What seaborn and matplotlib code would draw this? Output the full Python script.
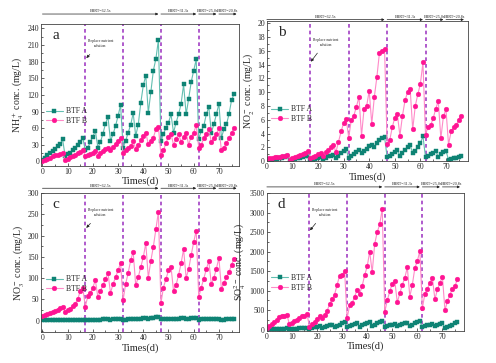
import numpy as np
import matplotlib
matplotlib.use("Agg")
import matplotlib.pyplot as plt
import seaborn as sns
from matplotlib.ticker import AutoMinorLocator

# ── data ─────────────────────────────────────────────────────────────────────
days = list(range(77))

nh4_a = [3, 6, 12, 15, 18, 23, 27, 31, 40,
         10, 13, 16, 20, 25, 29, 35, 43,
         20, 25, 35, 45, 55, 25, 35, 50, 68, 80, 37, 49, 64, 82, 102,
         25, 37, 52, 66, 87, 46, 66, 105, 137, 155, 88, 125, 164, 185, 219,
         37, 49, 61, 70, 85, 52, 70, 85, 104, 139, 85, 113, 143, 164, 184,
         40, 55, 64, 85, 98, 52, 67, 85, 104, 43, 58, 67, 85, 110, 122]
nh4_b = [1, 3, 5, 7, 9, 11, 12, 14, 15,
         3, 5, 8, 10, 12, 15, 17, 20,
         10, 11, 13, 16, 19, 10, 15, 18, 22, 25, 20, 26, 32, 36, 42,
         16, 20, 24, 28, 36, 23, 30, 38, 46, 52, 31, 37, 43, 58, 63,
         12, 20, 33, 45, 50, 30, 40, 50, 35, 45, 52, 30, 45, 52, 65,
         25, 30, 42, 50, 58, 35, 42, 50, 60, 20, 25, 33, 42, 52, 60]

no2_a = [0.1, 0.1, 0.2, 0.3, 0.3, 0.4, 0.5, 0.6, 0.7,
         0.1, 0.2, 0.3, 0.4, 0.5, 0.6, 0.7, 0.8,
         0.1, 0.2, 0.3, 0.5, 0.6, 0.3, 0.5, 0.7, 0.8, 0.9, 0.5, 0.8, 1.2, 1.5, 1.7,
         0.4, 0.8, 1.0, 1.3, 1.6, 1.2, 1.5, 1.8, 2.2, 2.4, 2.0, 2.6, 3.0, 3.3, 3.5,
         0.6, 0.8, 1.0, 1.3, 1.6, 0.7, 1.2, 1.6, 2.0, 2.3, 1.2, 1.5, 2.0, 2.6, 3.6,
         0.6, 0.8, 1.0, 1.2, 1.5, 0.6, 1.0, 1.3, 1.5, 0.2, 0.3, 0.4, 0.5, 0.6, 0.7]
no2_b = [0.3, 0.4, 0.5, 0.55, 0.6, 0.65, 0.7, 0.8, 0.9,
         0.2, 0.4, 0.6, 0.8, 0.9, 1.0, 1.2, 1.5,
         0.4, 0.6, 0.8, 1.0, 1.2, 0.8, 1.3, 1.6, 2.0, 2.4, 1.3, 2.8, 4.3, 5.5, 6.1,
         3.4, 6.0, 6.6, 7.9, 9.3, 3.7, 7.6, 8.0, 10.2, 5.4, 9.3, 12.2, 15.7, 16.0, 16.3,
         2.5, 3.0, 4.9, 6.3, 6.8, 3.7, 6.6, 8.8, 10.0, 10.5, 4.6, 8.0, 9.7, 11.2, 14.3,
         3.8, 5.0, 5.2, 6.2, 7.6, 8.7, 3.3, 6.5, 7.5, 2.4, 4.3, 4.9, 5.2, 6.0, 6.6]

no3_a = [1, 1, 1, 1.5, 1.5, 2, 2, 2, 2.5,
         1, 1, 1.5, 1.5, 2, 2, 2, 2.5,
         1, 1.5, 1.5, 2, 2.5, 2, 2.5, 3, 3, 3.5, 2.5, 3, 3.5, 4, 4.5,
         2, 2.5, 3, 3.5, 4, 3, 4, 5, 6, 7, 5, 6, 7, 8, 9,
         3, 3.5, 4, 4.5, 5, 3.5, 4, 5, 5.5, 6, 4, 5, 6, 6.5, 7,
         2.5, 3, 3.5, 4, 4.5, 3, 3.5, 4, 4.5, 2, 2.5, 3, 3.5, 4.5, 5]
no3_b = [10, 13, 15, 18, 20, 23, 26, 29, 33,
         20, 25, 28, 35, 40, 50, 70, 78,
         33, 57, 65, 78, 95, 55, 70, 83, 98, 112, 65, 86, 102, 118, 136,
         48, 86, 112, 142, 162, 83, 102, 126, 149, 182, 101, 141, 174, 215, 256,
         41, 78, 98, 118, 127, 70, 84, 107, 135, 168, 101, 121, 154, 185, 212,
         55, 78, 99, 121, 140, 86, 101, 122, 148, 74, 89, 102, 114, 131, 146]

so4_a = [2, 5, 8, 12, 15, 20, 25, 30, 35,
         15, 20, 25, 30, 35, 40, 45, 50,
         30, 45, 60, 75, 90, 50, 70, 90, 110, 130, 70, 100, 130, 160, 190,
         60, 90, 110, 140, 170, 80, 110, 140, 170, 200, 100, 130, 160, 190, 210,
         70, 90, 110, 130, 150, 90, 110, 140, 160, 180, 100, 130, 160, 190, 210,
         60, 90, 110, 130, 150, 90, 110, 140, 160, 50, 80, 100, 130, 160, 200]
so4_b = [40, 100, 150, 200, 250, 320, 350, 360, 380,
         140, 160, 210, 260, 310, 350, 360, 400,
         80, 150, 200, 270, 350, 310, 380, 480, 650, 780, 900, 1150, 1380, 1400, 1500,
         300, 620, 680, 850, 1020, 920, 1120, 1400, 1620, 2000, 1470, 2200, 2500, 2700, 3100,
         450, 750, 980, 1180, 1250, 700, 930, 1150, 1330, 1600, 850, 1150, 1580, 1760, 2020,
         550, 920, 1050, 1200, 1320, 780, 1030, 1200, 1350, 500, 730, 900, 1050, 1120, 1300]

replace_days = [17, 32, 47, 62]
ebrt_segments = [(0, 46), (47, 61), (62, 69), (70, 77)]
ebrt_labels = ["EBRT=62.5s", "EBRT=31.3s", "EBRT=25.0s", "EBRT=20.8s"]

# ── style ────────────────────────────────────────────────────────────────────
sns.set_style("ticks")
plt.rcParams["font.family"] = ["Liberation Serif", "DejaVu Serif"]
plt.rcParams["mathtext.fontset"] = "stix"

TEAL, TEAL_L = "#0e8374", "#63bfb1"
PINK, PINK_L = "#ff1493", "#ff8ac8"
PURPLE = "#a23fc4"


def draw_panel(ax, a_vals, b_vals, ylim, yticks, ylabel, letter, xlim,
               banner_y, legend_y, note_xy, note_tip):
    sns.lineplot(x=days, y=a_vals, ax=ax, color=TEAL_L, linewidth=0.8,
                 marker="s", markersize=2.8, markerfacecolor=TEAL,
                 markeredgecolor=TEAL, markeredgewidth=0.3, label="BTF A")
    sns.lineplot(x=days, y=b_vals, ax=ax, color=PINK_L, linewidth=0.8,
                 marker="o", markersize=3.4, markerfacecolor=PINK,
                 markeredgecolor=PINK, markeredgewidth=0.3, label="BTF B")

    for d in replace_days:
        ax.axvline(d, color=PURPLE, ls=(0, (2.2, 1.8)), lw=1.2, zorder=0)

    ax.set_xlim(*xlim)
    ax.set_ylim(*ylim)
    ax.set_xticks(range(0, 80, 10))
    ax.set_yticks(yticks)
    ax.xaxis.set_minor_locator(AutoMinorLocator(2))
    ax.yaxis.set_minor_locator(AutoMinorLocator(2))
    ax.tick_params(which="both", direction="in", labelsize=5.5, width=0.5,
                   pad=1.5)
    ax.tick_params(which="major", length=2.5)
    ax.tick_params(which="minor", length=1.5)
    for s in ax.spines.values():
        s.set_linewidth(0.6)
        s.set_color("#444444")

    ax.set_xlabel("Times(d)", fontsize=7.5, labelpad=0.5)
    ax.set_ylabel(ylabel, fontsize=7, labelpad=1)
    ax.text(0.055, 0.92, letter, transform=ax.transAxes, fontsize=11,
            ha="left", va="center")

    ax.legend(loc="center left", bbox_to_anchor=(0.0, legend_y),
              frameon=False, fontsize=5.5, handlelength=2.2,
              handletextpad=0.4, labelspacing=0.2, borderaxespad=0.2)

    # EBRT banner above the axes
    trans = ax.get_xaxis_transform()
    for (s, e), lab in zip(ebrt_segments, ebrt_labels):
        ax.annotate("", xy=(e, banner_y), xytext=(s, banner_y),
                    xycoords=trans, textcoords=trans, annotation_clip=False,
                    arrowprops=dict(arrowstyle="-|>", lw=0.5, color="#222222",
                                    mutation_scale=3.5, shrinkA=0, shrinkB=0))
        ax.text((s + e) / 2, banner_y + 0.004, lab, transform=trans,
                fontsize=3, ha="center", va="bottom", clip_on=False)

    ax.annotate("Replace nutrient\nsolution", xy=note_tip, xytext=note_xy,
                xycoords=trans, textcoords=trans, fontsize=2.8, ha="center",
                va="center", linespacing=1.3,
                arrowprops=dict(arrowstyle="-|>", lw=0.5, color="#222222",
                                mutation_scale=4, shrinkA=3, shrinkB=0))


fig = plt.figure(figsize=(4.96, 3.63), dpi=100)
ax_a = fig.add_axes([0.083, 0.543, 0.399, 0.391])
ax_b = fig.add_axes([0.538, 0.556, 0.405, 0.386])
ax_c = fig.add_axes([0.083, 0.085, 0.399, 0.383])
ax_d = fig.add_axes([0.538, 0.088, 0.397, 0.380])

draw_panel(ax_a, nh4_a, nh4_b, (-8, 248), range(0, 241, 30),
           r"NH$_4^+$ conc. (mg/L)", "a", (-0.5, 78),
           1.07, 0.35, (23, 0.86), (17.4, 0.76))
draw_panel(ax_b, no2_a, no2_b, (0, 20.3), range(0, 21, 2),
           r"NO$_2^-$ conc. (mg/L)", "b", (0, 78.5),
           1.01, 0.335, (23, 0.85), (17.2, 0.71))
draw_panel(ax_c, no3_a, no3_b, (-27, 300), range(0, 301, 50),
           r"NO$_3^-$ conc. (mg/L)", "c", (-0.5, 78),
           1.035, 0.345, (23, 0.86), (17.4, 0.75))
draw_panel(ax_d, so4_a, so4_b, (-35, 3500), range(0, 3501, 500),
           r"SO$_4^{2-}$ conc. (mg/L)", "d", (0, 78.5),
           1.045, 0.35, (23, 0.86), (17.2, 0.73))

fig.savefig("out.png", dpi=100)
plt.close(fig)
